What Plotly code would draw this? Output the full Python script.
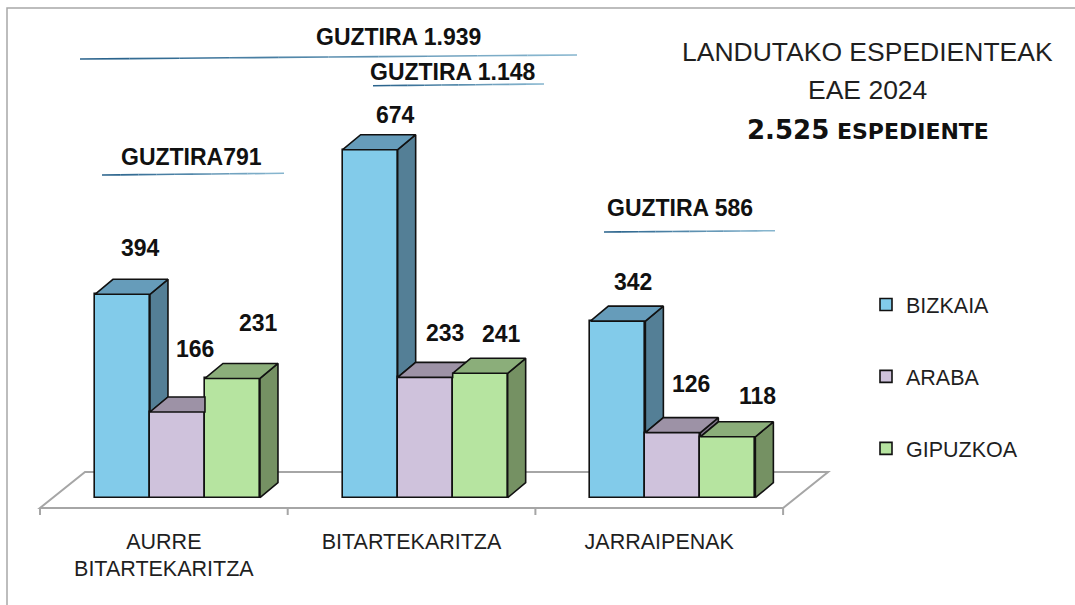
import plotly.graph_objects as go

# ---------------- data ----------------
categories = ["AURRE<br>BITARTEKARITZA", "BITARTEKARITZA", "JARRAIPENAK"]
series_names = ["BIZKAIA", "ARABA", "GIPUZKOA"]
bizkaia = [394, 674, 342]
araba = [166, 233, 126]
gipuzkoa = [231, 241, 118]
guztira_labels = ["GUZTIRA791", "GUZTIRA 1.148", "GUZTIRA 586"]
guztira_all_label = "GUZTIRA 1.939"
title_line1 = "LANDUTAKO ESPEDIENTEAK"
title_line2 = "EAE 2024"
total_value = "2.525"
total_unit = "ESPEDIENTE"

series_values = [bizkaia, araba, gipuzkoa]

# ---------------- style ----------------
front_colors = ["#82CBEA", "#CFC2DC", "#B6E4A0"]
top_colors = ["#669CBA", "#9D92A6", "#8BAE7A"]
side_colors = ["#547F96", "#7F7589", "#759163"]
EDGE = "#111111"
EDGE_W = 1.6
FONT = "Liberation Sans, Arial, sans-serif"
WIDE_FONT = "DejaVu Sans, Liberation Sans, sans-serif"
TXT = "#1f1f1f"

W, H = 1075, 605
L_PX, R_PX, T_PX, B_PX = 30, 845, 20, 517
PX_PER_X = 247.7          # pixels per category
PX_PER_Y = 0.5163         # pixels per value unit
ZERO_PX = 497.7           # pixel row of value 0 (front plane)
FRONT_LEFT_PX = 40        # pixel column of the front-left floor corner
FLOOR_FRONT_PX = 508
FLOOR_DEPTH_X_PX, FLOOR_DEPTH_Y_PX = 45, 36
BAR_W = 55 / PX_PER_X
GROUP_SHIFT = 0.055
DX = 18 / PX_PER_X
DY = 15 / PX_PER_Y
TICK_LEN_PX = 7

x_min = -0.5 - (FRONT_LEFT_PX - L_PX) / PX_PER_X
x_max = x_min + (R_PX - L_PX) / PX_PER_X
y_min = -(B_PX - ZERO_PX) / PX_PER_Y
y_max = y_min + (B_PX - T_PX) / PX_PER_Y


def px_x(px):
    return (px - L_PX) / (R_PX - L_PX)


def px_y(py):
    return (B_PX - py) / (B_PX - T_PX)


# label offsets (pixels) relative to the bar's front top edge
label_dx = [[18.5, 25, 15], [17.5, 20, 18], [26, 21, 30]]
label_dy = [[46.5, 34.7, 39.4], [63, 44.4, 48.6], [55.5, 39, 40.7]]

fig = go.Figure()
n_cat = len(categories)

# front faces (bars)
for k, (name, vals) in enumerate(zip(series_names, series_values)):
    xs = [i + GROUP_SHIFT + (k - 1) * BAR_W for i in range(n_cat)]
    fig.add_trace(go.Bar(
        x=xs, y=vals, width=[BAR_W] * n_cat, name=name, legendgroup=name,
        marker=dict(color=front_colors[k], line=dict(color=EDGE, width=EDGE_W)),
        hoverinfo="name+y",
    ))


def poly(pts, color):
    xs = [p[0] for p in pts] + [pts[0][0]]
    ys = [p[1] for p in pts] + [pts[0][1]]
    fig.add_trace(go.Scatter(
        x=xs, y=ys, mode="lines", fill="toself", fillcolor=color,
        line=dict(color=EDGE, width=EDGE_W), showlegend=False, hoverinfo="skip",
    ))


# side and top faces (3D depth), drawn left to right
for i in range(n_cat):
    for k in range(len(series_values)):
        v = series_values[k][i]
        x_l = i + GROUP_SHIFT + (k - 1) * BAR_W - BAR_W / 2
        x_r = x_l + BAR_W
        v_next = series_values[k + 1][i] if k + 1 < len(series_values) else None
        # side face
        lo = 0 if v_next is None else v_next
        if lo < v:
            poly([(x_r, lo), (x_r + DX, lo + DY), (x_r + DX, v + DY), (x_r, v)], side_colors[k])
        # top face
        if v_next is not None and v_next >= v + DY:
            pts = [(x_l, v), (x_r, v), (x_r, v + DY), (x_l + DX, v + DY)]
        elif v_next is not None and v_next > v:
            pts = [(x_l, v), (x_r, v), (x_r, v_next),
                   (x_r + (v_next - v) * DX / DY, v_next),
                   (x_r + DX, v + DY), (x_l + DX, v + DY)]
        else:
            pts = [(x_l, v), (x_r, v), (x_r + DX, v + DY), (x_l + DX, v + DY)]
        poly(pts, top_colors[k])

# floor with category boundary ticks
yf = -(FLOOR_FRONT_PX - ZERO_PX) / PX_PER_Y
yb = yf + FLOOR_DEPTH_Y_PX / PX_PER_Y
fdx = FLOOR_DEPTH_X_PX / PX_PER_X
x0f, x1f = -0.5, n_cat - 0.5
path = f"M {x0f},{yf} L {x1f},{yf} L {x1f + fdx},{yb} L {x0f + fdx},{yb} Z"
for b in range(n_cat + 1):
    xb = b - 0.5
    path += f" M {xb},{yf} L {xb},{yf - TICK_LEN_PX / PX_PER_Y}"
shapes = [dict(type="path", path=path, xref="x", yref="y", layer="below",
               line=dict(color="#A6A6A6", width=2), fillcolor="rgba(0,0,0,0)")]

# outer frame
shapes.append(dict(type="rect", xref="paper", yref="paper",
                   x0=px_x(7), y0=px_y(8), x1=px_x(1095), y1=px_y(625),
                   line=dict(color="#A8A8A8", width=1.5), fillcolor="rgba(0,0,0,0)", layer="below"))


# gradient underlines
def underline(x0, y0, x1, y1, n=10):
    c0 = (38, 96, 138)
    c1 = (140, 186, 210)
    for s in range(n):
        t0, t1 = s / n, (s + 1) / n
        tm = (t0 + t1) / 2
        col = "rgb(%d,%d,%d)" % tuple(int(c0[j] + (c1[j] - c0[j]) * tm) for j in range(3))
        shapes.append(dict(type="line", xref="paper", yref="paper",
                           x0=px_x(x0 + (x1 - x0) * t0), y0=px_y(y0 + (y1 - y0) * t0),
                           x1=px_x(x0 + (x1 - x0) * t1), y1=px_y(y0 + (y1 - y0) * t1),
                           line=dict(color=col, width=1.6)))


underline(80, 59, 577, 55)
underline(373, 85.7, 544, 84)
underline(102, 175, 284, 173.3)
underline(604, 232, 775, 230.7)

annotations = []
# data labels
for k, vals in enumerate(series_values):
    for i, v in enumerate(vals):
        annotations.append(dict(
            x=i + GROUP_SHIFT + (k - 1) * BAR_W, y=v, xref="x", yref="y",
            text=f"<b>{v}</b>", showarrow=False, xanchor="center", yanchor="middle",
            xshift=label_dx[k][i], yshift=label_dy[k][i],
            font=dict(family=FONT, size=23, color="#111111")))


def paper_text(text, cx, cy, size, bold=False, family=FONT):
    annotations.append(dict(
        x=px_x(cx), y=px_y(cy), xref="paper", yref="paper",
        text=f"<b>{text}</b>" if bold else text, showarrow=False,
        xanchor="center", yanchor="middle",
        font=dict(family=family, size=size, color="#111111" if bold else TXT)))


paper_text(guztira_all_label, 398, 37.3, 23, True)
paper_text(guztira_labels[1], 453, 71.7, 23, True)
paper_text(guztira_labels[0], 191, 156.7, 23, True)
paper_text(guztira_labels[2], 680, 208.3, 23, True)

paper_text(title_line1, 867.5, 51.7, 26.5)
paper_text(title_line2, 867, 89.7, 26.5)
paper_text(f"<span style='font-size:26px'>{total_value}</span> {total_unit}", 867.5, 130, 22,
           True, WIDE_FONT)

fig.update_layout(
    width=W, height=H, autosize=False,
    margin=dict(l=L_PX, r=W - R_PX, t=T_PX, b=H - B_PX, pad=0),
    paper_bgcolor="white", plot_bgcolor="white",
    barmode="overlay", bargap=0,
    showlegend=True,
    legend=dict(x=px_x(866), y=px_y(284), xanchor="left", yanchor="top",
                font=dict(family=FONT, size=21.5, color=TXT),
                traceorder="grouped", tracegroupgap=41,
                bgcolor="rgba(0,0,0,0)"),
    xaxis=dict(range=[x_min, x_max], tickmode="array", tickvals=list(range(n_cat)),
               ticktext=categories, ticks="", showgrid=False, zeroline=False,
               showline=False, ticklabelstandoff=9,
               tickfont=dict(family=FONT, size=21.5, color=TXT), fixedrange=True),
    yaxis=dict(range=[y_min, y_max], visible=False, showgrid=False, zeroline=False,
               fixedrange=True),
    shapes=shapes, annotations=annotations,
    font=dict(family=FONT),
)

fig.write_html("out.html",
               config={"displayModeBar": False},
               post_script="document.body.style.margin='0';document.body.style.padding='0';")
